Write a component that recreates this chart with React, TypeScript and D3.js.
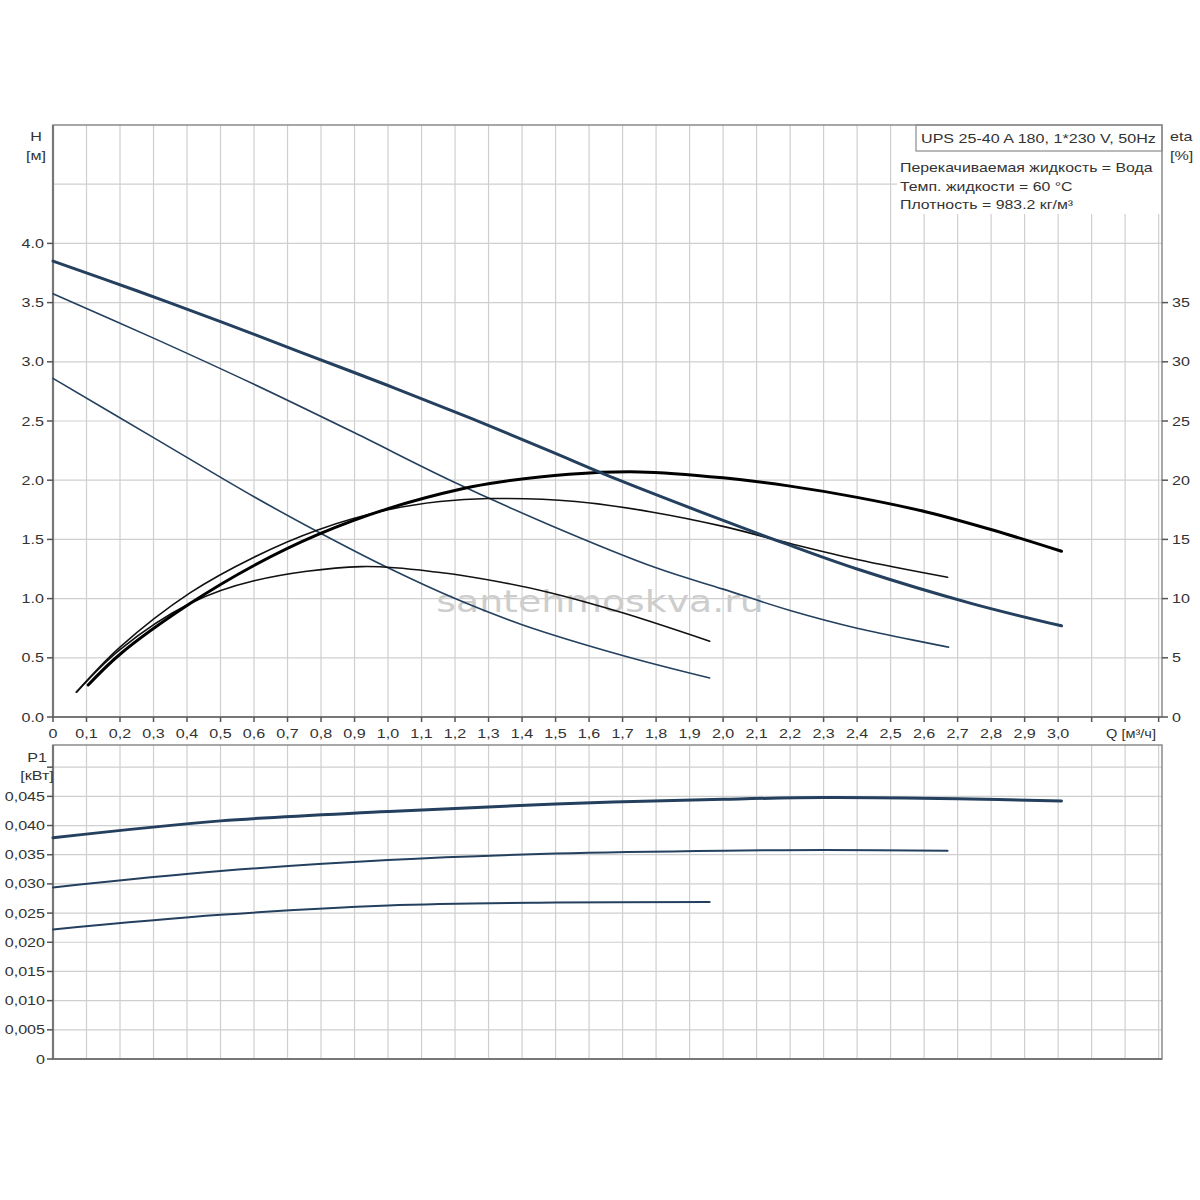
import React from "react";
import * as d3 from "d3";

// ---------- data ----------
const qTicks = d3.range(0, 34).map((i) => i / 10);
const hTicks = [0, 0.5, 1, 1.5, 2, 2.5, 3, 3.5, 4];
const etaTicks = [0, 5, 10, 15, 20, 25, 30, 35];
const pTicks = [0, 0.005, 0.01, 0.015, 0.02, 0.025, 0.03, 0.035, 0.04, 0.045];

// H curves (Q [m3/h], H [m])
const q_H3 = [0, 0.25, 0.5, 0.74, 1.0, 1.25, 1.48, 1.69, 2.0, 2.18, 2.4, 2.74, 3.01];
const h_H3 = [3.85, 3.6, 3.34, 3.08, 2.8, 2.52, 2.25, 2.0, 1.66, 1.47, 1.25, 0.96, 0.77];
const q_H2 = [0, 0.3, 0.6, 0.9, 1.185, 1.484, 1.8, 2.0, 2.2, 2.4, 2.673];
const h_H2 = [3.575, 3.2, 2.81, 2.4, 2.0, 1.62, 1.26, 1.08, 0.9, 0.75, 0.59];
const q_H1 = [0, 0.3, 0.6, 0.8, 1.0, 1.2, 1.4, 1.7, 1.96];
const h_H1 = [2.86, 2.36, 1.86, 1.55, 1.26, 1.0, 0.78, 0.52, 0.33];

// eta curves (Q, eta %)
const q_E3 = [0.105, 0.2, 0.41, 0.6, 0.79, 1.0, 1.225, 1.334, 1.54, 1.75, 2.0, 2.2, 2.4, 2.61, 2.81, 3.01];
const e_E3 = [2.7, 5.3, 9.6, 12.8, 15.4, 17.6, 19.3, 19.85, 20.5, 20.7, 20.2, 19.5, 18.55, 17.3, 15.75, 14.0];
const q_E2 = [0.07, 0.2, 0.41, 0.6, 0.79, 1.0, 1.155, 1.3, 1.56, 1.79, 2.0, 2.2, 2.4, 2.67];
const e_E2 = [2.1, 5.9, 10.5, 13.5, 15.8, 17.5, 18.2, 18.45, 18.2, 17.3, 16.1, 14.65, 13.3, 11.8];
const q_E1 = [0.07, 0.2, 0.41, 0.6, 0.92, 1.155, 1.334, 1.484, 1.7, 1.96];
const e_E1 = [2.1, 5.7, 9.6, 11.5, 12.7, 12.2, 11.4, 10.5, 8.8, 6.4];

// P1 curves (Q, kW)
const q_P3 = [0, 0.5, 1.0, 1.5, 2.0, 2.3, 2.7, 3.01];
const p_P3 = [0.0379, 0.0408, 0.0424, 0.0437, 0.0445, 0.0448, 0.0446, 0.0442];
const q_P2 = [0, 0.5, 1.0, 1.5, 2.0, 2.3, 2.67];
const p_P2 = [0.0294, 0.0322, 0.0341, 0.0352, 0.0357, 0.0358, 0.0357];
const q_P1 = [0, 0.5, 1.0, 1.5, 1.96];
const p_P1 = [0.0222, 0.0247, 0.0263, 0.0268, 0.0269];

const titleText = "UPS 25-40 A 180, 1*230 V, 50Hz";
const infoLines = [
  "Перекачиваемая жидкость = Вода",
  "Темп. жидкости = 60 °C",
  "Плотность = 983.2 кг/м³",
];
const watermark = "santehmoskva.ru";

const zip = (xs: number[], ys: number[]) => xs.map((x, i) => [x, ys[i]] as [number, number]);

// ---------- layout ----------
const L = 53, R = 1162;
const T1 = 125, B1 = 717;
const T2 = 745, B2 = 1059;
const FONT = "'Liberation Sans', Arial, sans-serif";
const SX = 1.24;

type TProps = {
  x: number;
  y: number;
  anchor?: "start" | "middle" | "end";
  size?: number;
  fill?: string;
  sx?: number;
  family?: string;
  children: React.ReactNode;
};

function T({ x, y, anchor = "start", size = 13, fill = "#333", sx = SX, family = FONT, children }: TProps) {
  return (
    <text
      transform={`translate(${x},${y}) scale(${sx},1)`}
      textAnchor={anchor}
      fontSize={size}
      fill={fill}
      fontFamily={family}
    >
      {children}
    </text>
  );
}

export default function App() {
  const x = d3.scaleLinear().domain([0, 3.31]).range([L, R]);
  const yH = d3.scaleLinear().domain([0, 5]).range([B1, T1]);
  const yE = d3.scaleLinear().domain([0, 50]).range([B1, T1]);
  const yP = d3.scaleLinear().domain([0, 0.0538]).range([B2, T2]);

  const lineH = d3.line<[number, number]>().x((d) => x(d[0])).y((d) => yH(d[1])).curve(d3.curveCatmullRom.alpha(0.5));
  const lineE = d3.line<[number, number]>().x((d) => x(d[0])).y((d) => yE(d[1])).curve(d3.curveCatmullRom.alpha(0.5));
  const lineP = d3.line<[number, number]>().x((d) => x(d[0])).y((d) => yP(d[1])).curve(d3.curveCatmullRom.alpha(0.5));

  const navy = "#24405e";
  const grid = "#cfcfcf";
  const frame = "#8a8a8a";

  const fmtQ = (v: number) => (v === 0 ? "0" : v.toFixed(1).replace(".", ","));
  const fmtP = (v: number) => (v === 0 ? "0" : v.toFixed(3).replace(".", ","));

  const vGrid = qTicks.filter((q) => q > 0);

  return (
    <svg
      width={1200}
      height={1200}
      style={{ position: "absolute", left: 0, top: 0, background: "#fff" }}
      fontFamily={FONT}
    >
      <rect x={0} y={0} width={1200} height={1200} fill="#fff" />

      {/* ---------- top panel grid ---------- */}
      <g stroke={grid} strokeWidth={1.2}>
        {vGrid.map((q) => (
          <line key={"tv" + q} x1={x(q)} x2={x(q)} y1={T1} y2={B1} />
        ))}
        {[0.5, 1, 1.5, 2, 2.5, 3, 3.5, 4, 4.5].map((h) => (
          <line key={"th" + h} x1={L} x2={R} y1={yH(h)} y2={yH(h)} />
        ))}
      </g>

      {/* legend */}
      <rect x={897} y={151} width={264} height={63} fill="#fff" />
      <rect x={916} y={125} width={246} height={26} fill="#fff" stroke={frame} strokeWidth={1.2} />
      <T x={921} y={143}>{titleText}</T>
      {infoLines.map((s, i) => (
        <T key={s} x={900} y={172 + i * 18.5} sx={1.22}>{s}</T>
      ))}

      {/* watermark */}
      <T x={600} y={612} anchor="middle" size={31} sx={1.22} fill="#cdcdcd" family="'DejaVu Sans', sans-serif">
        {watermark}
      </T>

      {/* ---------- top panel frame ---------- */}
      <rect x={L} y={T1} width={R - L} height={B1 - T1} fill="none" stroke={frame} strokeWidth={1.5} />
      <line x1={L} x2={R} y1={B1} y2={B1} stroke="#777" strokeWidth={2.2} />
      <line x1={L} x2={L} y1={T1} y2={B1} stroke="#777" strokeWidth={2.2} />

      {/* left H axis */}
      {hTicks.map((h) => (
        <g key={"hl" + h}>
          <line x1={L - 6} x2={L} y1={yH(h)} y2={yH(h)} stroke="#555" strokeWidth={1.5} />
          <T x={L - 9} y={yH(h) + 4.5} anchor="end">{h.toFixed(1)}</T>
        </g>
      ))}
      <T x={36} y={141} anchor="middle">H</T>
      <T x={36} y={160} anchor="middle">[м]</T>

      {/* right eta axis */}
      {etaTicks.map((e) => (
        <g key={"er" + e}>
          <line x1={R} x2={R + 6} y1={yE(e)} y2={yE(e)} stroke="#555" strokeWidth={1.5} />
          <T x={R + 10} y={yE(e) + 4.5}>{e}</T>
        </g>
      ))}
      <T x={1170} y={141}>eta</T>
      <T x={1170} y={160}>[%]</T>

      {/* bottom Q axis */}
      {qTicks.map((q) => (
        <g key={"qb" + q}>
          <line x1={x(q)} x2={x(q)} y1={B1} y2={B1 + 5} stroke="#555" strokeWidth={1.5} />
          {q <= 3.001 && (
            <T x={x(q)} y={738} anchor="middle">{fmtQ(q)}</T>
          )}
        </g>
      ))}
      <T x={1131} y={738} anchor="middle" sx={1.12}>Q [м³/ч]</T>

      {/* ---------- top panel curves ---------- */}
      <g fill="none" strokeLinecap="round">
        <path d={lineH(zip(q_H1, h_H1)) || ""} stroke={navy} strokeWidth={1.6} />
        <path d={lineH(zip(q_H2, h_H2)) || ""} stroke={navy} strokeWidth={1.6} />
        <path d={lineE(zip(q_E1, e_E1)) || ""} stroke="#111" strokeWidth={1.6} />
        <path d={lineE(zip(q_E2, e_E2)) || ""} stroke="#111" strokeWidth={1.6} />
        <path d={lineE(zip(q_E3, e_E3)) || ""} stroke="#000" strokeWidth={3} />
        <path d={lineH(zip(q_H3, h_H3)) || ""} stroke={navy} strokeWidth={3} />
      </g>

      {/* ---------- bottom panel ---------- */}
      <g stroke={grid} strokeWidth={1.2}>
        {vGrid.map((q) => (
          <line key={"bv" + q} x1={x(q)} x2={x(q)} y1={T2} y2={B2} />
        ))}
        {[...pTicks.filter((p) => p > 0), 0.05].map((p) => (
          <line key={"bh" + p} x1={L} x2={R} y1={yP(p)} y2={yP(p)} />
        ))}
      </g>
      <rect x={L} y={T2} width={R - L} height={B2 - T2} fill="none" stroke={frame} strokeWidth={1.5} />
      <line x1={L} x2={R} y1={B2} y2={B2} stroke="#777" strokeWidth={2.2} />
      <line x1={L} x2={L} y1={T2} y2={B2} stroke="#777" strokeWidth={2.2} />

      {[...pTicks, 0.05].map((p) => (
        <g key={"pl" + p}>
          <line x1={L - 6} x2={L} y1={yP(p)} y2={yP(p)} stroke="#555" strokeWidth={1.5} />
          {p < 0.0499 && (
            <T x={L - 8} y={yP(p) + 4.5} anchor="end">{fmtP(p)}</T>
          )}
        </g>
      ))}
      <T x={37} y={762} anchor="middle">P1</T>
      <T x={37} y={780} anchor="middle">[кВт]</T>

      <g fill="none" strokeLinecap="round">
        <path d={lineP(zip(q_P1, p_P1)) || ""} stroke={navy} strokeWidth={2} />
        <path d={lineP(zip(q_P2, p_P2)) || ""} stroke={navy} strokeWidth={2} />
        <path d={lineP(zip(q_P3, p_P3)) || ""} stroke={navy} strokeWidth={3} />
      </g>
    </svg>
  );
}
